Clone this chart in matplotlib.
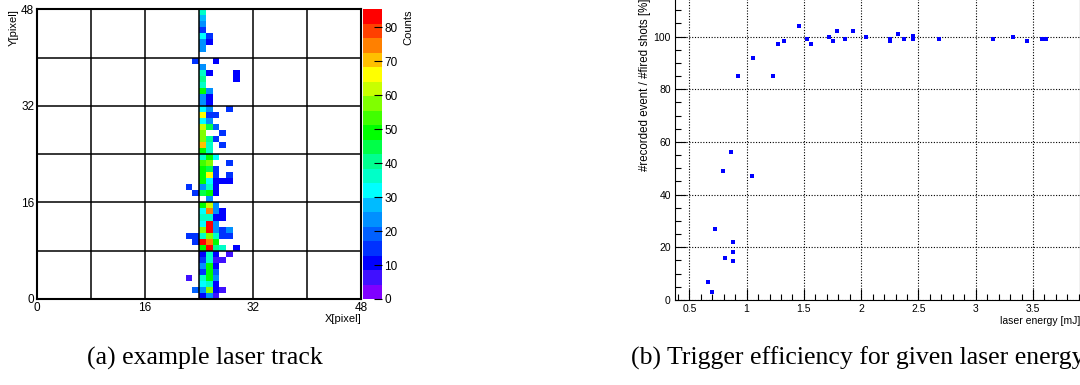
import numpy as np
import matplotlib
matplotlib.use("Agg")
import matplotlib.pyplot as plt
from matplotlib.colors import ListedColormap, BoundaryNorm
from matplotlib.ticker import MultipleLocator

plt.rcParams['font.family'] = ['Liberation Sans', 'DejaVu Sans']

# --- left panel: laser track, 48x48 pixel counts (only filled cells listed)
hit_x = [24, 24, 24, 24, 24, 25, 24, 25, 24, 23, 26, 24, 24, 25, 29, 24, 29, 24,
         24, 25, 24, 25, 24, 25, 24, 25, 28, 24, 25, 26, 24, 25, 24, 25, 26, 24, 27,
         24, 25, 26, 24, 25, 27, 24, 25, 24, 25, 26, 24, 25, 28, 24, 25, 26,
         24, 25, 26, 28, 24, 25, 26, 27, 28, 22, 24, 25, 26, 23, 24, 25, 26, 25,
         24, 25, 26, 24, 25, 26, 27, 24, 25, 26, 27, 24, 25, 26,
         24, 25, 26, 27, 28, 22, 23, 24, 25, 26, 27, 28, 23, 24, 25, 26,
         24, 25, 26, 27, 29, 24, 25, 26, 28, 24, 25, 26, 27, 24, 25, 26,
         24, 25, 26, 22, 24, 25, 26, 24, 25, 26, 23, 24, 25, 26, 27, 24, 25, 26]
hit_y = [47, 46, 45, 44, 43, 43, 42, 42, 41, 39, 39, 38, 37, 37, 37, 36, 36, 35,
         34, 34, 33, 33, 32, 32, 31, 31, 31, 30, 30, 30, 29, 29, 28, 28, 28, 27, 27,
         26, 26, 26, 25, 25, 25, 24, 24, 23, 23, 23, 22, 22, 22, 21, 21, 21,
         20, 20, 20, 20, 19, 19, 19, 19, 19, 18, 18, 18, 18, 17, 17, 17, 17, 16,
         15, 15, 15, 14, 14, 14, 14, 13, 13, 13, 13, 12, 12, 12,
         11, 11, 11, 11, 11, 10, 10, 10, 10, 10, 10, 10, 9, 9, 9, 9,
         8, 8, 8, 8, 8, 7, 7, 7, 7, 6, 6, 6, 6, 5, 5, 5,
         4, 4, 4, 3, 3, 3, 3, 2, 2, 2, 1, 1, 1, 1, 1, 0, 0, 0]
hit_counts = [37, 28, 22, 14, 32, 15, 22, 10, 22, 14, 12, 24, 38, 10, 12, 42, 12, 36,
              50, 22, 25, 12, 25, 10, 30, 22, 15, 65, 15, 15, 30, 22, 60, 45, 20, 58, 15,
              58, 42, 15, 70, 37, 15, 50, 35, 38, 48, 30, 52, 58, 13, 50, 45, 13,
              50, 66, 13, 13, 48, 30, 12, 12, 12, 15, 25, 35, 12, 15, 45, 48, 12, 25,
              48, 60, 22, 30, 75, 22, 10, 38, 38, 12, 10, 32, 85, 22,
              58, 85, 22, 15, 25, 15, 15, 35, 58, 38, 15, 15, 15, 82, 75, 48,
              50, 85, 42, 36, 12, 12, 38, 12, 7, 15, 38, 7, 7, 22, 48, 12,
              15, 48, 20, 5, 38, 48, 22, 30, 38, 12, 20, 25, 58, 10, 7, 12, 22, 7]

# --- right panel: trigger efficiency
energy = [0.660, 0.698, 0.727, 0.794, 0.812, 0.862, 0.885, 0.885, 0.885, 0.929,
          1.045, 1.057, 1.229, 1.276, 1.328, 1.459, 1.526, 1.564, 1.722, 1.751,
          1.789, 1.859, 1.926, 2.042, 2.255, 2.255, 2.322, 2.375, 2.450, 2.450,
          2.681, 3.147, 3.322, 3.450, 3.582, 3.611]
efficiency = [7.0, 3.2, 27.1, 49.1, 16.1, 56.1, 22.0, 18.1, 14.9, 85.1,
              47.1, 92.0, 85.1, 97.2, 98.2, 104.2, 99.1, 97.2, 100.0, 98.2,
              102.2, 99.1, 102.2, 100.0, 99.1, 98.2, 101.1, 99.1, 100.4, 99.1,
              99.1, 99.1, 100.0, 98.2, 99.1, 99.1]

# ROOT-like rainbow palette, 20 contour bands
band_colors = ['#8000ff', '#4010ff', '#0000ff', '#0032ff', '#0060ff', '#0090ff',
               '#00bbff', '#00ffff', '#00ffc8', '#00ff90', '#00ff48', '#00ff00',
               '#40ff00', '#80ff00', '#c8ff00', '#ffff00', '#ffc000', '#ff8000',
               '#ff4000', '#ff0000']
cmap = ListedColormap(band_colors)
zmax = 85.3
norm = BoundaryNorm(np.linspace(0, zmax, 21), cmap.N, clip=True)

track = np.zeros((48, 48))
track[hit_y, hit_x] = hit_counts
track = np.ma.masked_equal(track, 0)

fig = plt.figure(figsize=(10.8, 3.85), dpi=100)

ax1 = fig.add_axes([0.0343, 0.2234, 0.3, 0.7525])
mesh = ax1.pcolormesh(np.arange(49), np.arange(49), track, cmap=cmap, norm=norm)
ax1.set_xlim(0, 48)
ax1.set_ylim(0, 48)
ax1.xaxis.set_major_locator(MultipleLocator(16))
ax1.yaxis.set_major_locator(MultipleLocator(16))
ax1.xaxis.set_minor_locator(MultipleLocator(8))
ax1.yaxis.set_minor_locator(MultipleLocator(8))
ax1.grid(True, which='both', color='black', linewidth=1.1)
ax1.set_axisbelow(False)
ax1.tick_params(which='both', direction='in', length=0, labelsize=8.5, pad=2)
for s in ax1.spines.values():
    s.set_linewidth(1.5)
ax1.set_xlabel('X[pixel]', loc='right', fontsize=8, labelpad=0)
ax1.set_ylabel('Y[pixel]', loc='top', fontsize=8, labelpad=2)

cax = fig.add_axes([0.3364, 0.2234, 0.017, 0.7525])
cb = fig.colorbar(mesh, cax=cax, ticks=np.arange(0, 90, 10), drawedges=False)
cb.outline.set_visible(False)
cax.tick_params(direction='in', length=6, width=0.8, labelsize=8.5, pad=2)
cax.minorticks_off()
cb.set_label('Counts', loc='top', fontsize=8, labelpad=4)

ax2 = fig.add_axes([0.625, 0.2208, 0.375, 0.7818])
ax2.plot(energy, efficiency, 's', color='#0000ff', markersize=2.5,
         markeredgewidth=0, zorder=3)
ax2.set_xlim(0.375, 3.91)
ax2.set_ylim(0, 114.3)
ax2.xaxis.set_major_locator(MultipleLocator(0.5))
ax2.xaxis.set_minor_locator(MultipleLocator(0.1))
ax2.yaxis.set_major_locator(MultipleLocator(20))
ax2.yaxis.set_minor_locator(MultipleLocator(5))
ax2.xaxis.set_major_formatter(plt.FuncFormatter(lambda v, p: f'{v:g}'))
ax2.grid(True, which='major', color='black', linestyle=(0, (1, 1.5)),
         linewidth=0.8)
ax2.tick_params(which='major', direction='in', length=8, width=0.8,
                labelsize=7.5, pad=3)
ax2.tick_params(which='minor', direction='in', length=4, width=0.8)
ax2.set_xlabel('laser energy [mJ]', loc='right', fontsize=7.5, labelpad=1)
ax2.set_ylabel('#recorded event / #fired shots [%]', loc='top',
               fontsize=8.3, labelpad=2)

fig.text(0.19, 0.07, '(a) example laser track', family='Liberation Serif',
         fontsize=18.5, ha='center', va='center')
fig.text(0.584, 0.07, '(b) Trigger efficiency for given laser energy',
         family='Liberation Serif', fontsize=18.5, ha='left', va='center')

fig.savefig('out.png', dpi=100)
